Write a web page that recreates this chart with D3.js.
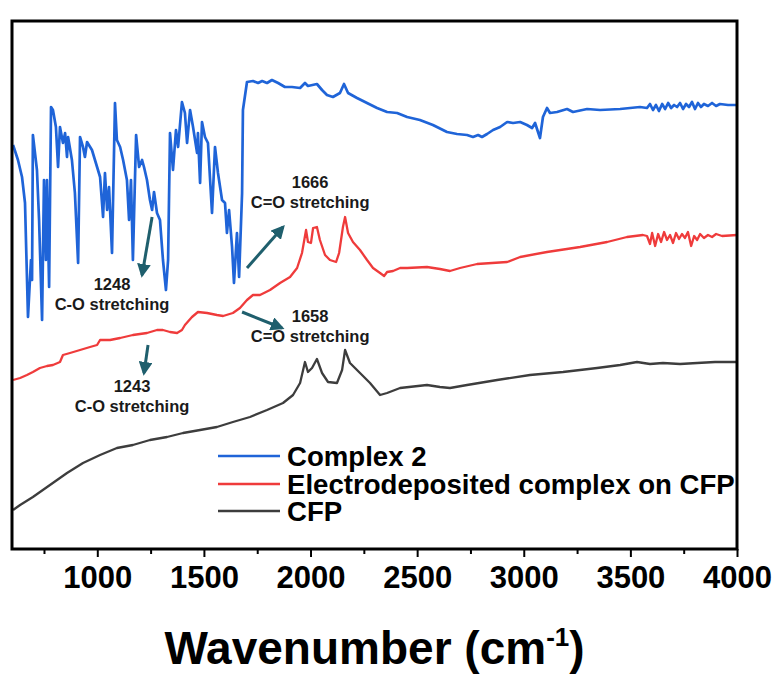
<!DOCTYPE html>
<html lang="en">
<head>
<meta charset="UTF-8">
<title>FTIR: Complex 2 / electrodeposited / CFP</title>
<script src="https://cdnjs.cloudflare.com/ajax/libs/d3/7.8.5/d3.min.js"></script>
<style>
  body { margin: 0; background: #fff; }
  svg { display: block; font-family: "Liberation Sans", Arial, sans-serif; }
  .tick text { font-weight: bold; font-size: 31px; fill: #000; }
  .tick line { stroke: #000; stroke-width: 2px; }
  .note { font-weight: bold; font-size: 16.5px; fill: #1a1a1a; }
  .legend text { font-weight: bold; font-size: 27.6px; fill: #000; }
</style>
</head>
<body>
<svg id="chart" width="780" height="674"></svg>
<script>
// wavenumber (cm-1) and transmittance (a.u., offset)
var wnComplex = [605, 628, 647, 661, 675, 689, 694, 698, 717, 727, 741, 750, 759, 764, 774, 783, 792, 806, 816, 825,
  839, 849, 858, 863, 881, 895, 910, 919, 933, 942, 952, 975, 999, 1013, 1027, 1036, 1046, 1055, 1069, 1083,
  1092, 1107, 1121, 1139, 1149, 1158, 1167, 1182, 1196, 1210, 1219, 1233, 1247, 1257, 1266, 1280, 1294, 1308, 1322, 1332,
  1341, 1355, 1369, 1379, 1397, 1411, 1421, 1435, 1449, 1468, 1472, 1482, 1491, 1505, 1519, 1538, 1552, 1566, 1585, 1599,
  1608, 1618, 1632, 1641, 1655, 1665, 1679, 1683, 1702, 1730, 1754, 1773, 1796, 1819, 1848, 1880, 1913, 1951, 1974, 1988,
  2030, 2054, 2077, 2105, 2138, 2157, 2176, 2218, 2265, 2312, 2359, 2406, 2453, 2513, 2574, 2640, 2687, 2734, 2762, 2786,
  2804, 2828, 2856, 2889, 2922, 2950, 2983, 3015, 3039, 3053, 3076, 3090, 3109, 3123, 3156, 3203, 3231, 3297, 3358, 3452,
  3545, 3578, 3592, 3606, 3620, 3634, 3649, 3663, 3677, 3691, 3705, 3719, 3733, 3747, 3761, 3775, 3789, 3803, 3817, 3831,
  3845, 3864, 3883, 3902, 3920, 3958, 4000];
var tComplex = [80.8, 77.8, 74.4, 69.2, 46.4, 57.8, 53.8, 82.8, 75.8, 65.8, 45.8, 73.8, 57.8, 73.8, 52.4, 88.4, 87.8, 84.4, 76.4, 84.4,
  81.2, 83.2, 78.4, 82.4, 77.8, 71.2, 57.2, 82.4, 80.4, 78.4, 81.4, 79.8, 76.4, 74.4, 66.4, 75.2, 67.8, 72.4, 59.2, 89.2,
  81.8, 80.4, 77.8, 73.8, 65.8, 73.8, 57.8, 82.8, 76.4, 77.8, 76.4, 73.8, 69.8, 67.8, 71.4, 67.2, 65.8, 57.8, 51.8, 57.8,
  83.2, 75.8, 83.8, 80.4, 89.4, 87.2, 81.2, 87.8, 84.4, 79.2, 83.2, 73.2, 85.4, 82.4, 81.2, 67.2, 80.4, 75.2, 69.8, 69.2,
  63.2, 67.8, 60.4, 53.2, 63.2, 54.4, 71.2, 87.8, 93.4, 93.6, 93.2, 93.6, 93.2, 93.8, 93.2, 92.4, 92.4, 92.2, 93.2, 92.6,
  93.0, 91.8, 90.8, 90.4, 91.2, 93.0, 91.2, 90.2, 89.2, 88.2, 87.4, 87.2, 86.4, 85.8, 84.8, 83.4, 83.0, 82.8, 82.4, 82.8,
  82.4, 83.0, 83.8, 84.4, 85.4, 85.2, 85.4, 84.8, 84.2, 85.2, 82.2, 86.4, 88.2, 87.2, 87.4, 88.0, 87.4, 88.0, 87.8, 88.0,
  88.4, 88.2, 89.0, 87.8, 88.8, 87.6, 89.0, 88.0, 89.2, 88.2, 88.8, 88.4, 89.2, 88.0, 89.0, 88.4, 89.4, 88.0, 89.2, 88.4,
  89.0, 88.6, 89.2, 88.6, 89.0, 88.8, 88.8];

var wnDeposit = [605, 638, 670, 698, 731, 764, 792, 825, 839, 872, 919, 966, 999, 1013, 1060, 1107, 1167, 1233, 1280, 1308,
  1341, 1374, 1397, 1411, 1444, 1472, 1515, 1561, 1590, 1636, 1669, 1702, 1730, 1763, 1810, 1857, 1904, 1937, 1960, 1979,
  1988, 2002, 2012, 2030, 2044, 2068, 2091, 2120, 2134, 2152, 2162, 2176, 2199, 2232, 2265, 2293, 2326, 2345, 2359, 2387,
  2420, 2453, 2546, 2607, 2654, 2701, 2781, 2922, 2983, 3109, 3264, 3391, 3484, 3559, 3578, 3592, 3602, 3616, 3630, 3644,
  3658, 3672, 3686, 3700, 3714, 3728, 3742, 3756, 3770, 3785, 3799, 3813, 3827, 3845, 3864, 3883, 3902, 3930, 4000];
var tDeposit = [33.8, 34.2, 34.8, 35.4, 36.2, 36.6, 36.8, 37.4, 38.8, 39.2, 39.8, 40.4, 40.8, 41.8, 41.8, 42.2, 42.8, 43.2, 43.8, 43.8,
  43.4, 43.2, 43.8, 44.8, 46.4, 47.4, 47.2, 46.8, 46.6, 47.2, 48.2, 49.8, 50.8, 50.8, 51.8, 53.2, 54.4, 56.2, 59.2, 63.8,
  61.4, 61.2, 64.2, 64.4, 61.8, 58.8, 57.8, 57.4, 59.2, 64.4, 66.4, 63.2, 61.4, 59.8, 57.8, 56.2, 55.2, 54.6, 55.4, 55.6,
  56.2, 56.2, 56.4, 56.0, 55.6, 56.2, 57.0, 57.4, 58.4, 59.4, 60.4, 61.4, 62.4, 62.8, 62.6, 61.0, 63.2, 60.6, 63.0, 61.4,
  63.4, 61.8, 62.8, 61.2, 63.2, 62.0, 63.0, 62.2, 63.4, 60.6, 62.6, 61.8, 63.0, 62.2, 62.8, 62.4, 63.0, 62.6, 62.8];

var wnCFP = [605, 638, 698, 778, 858, 933, 1013, 1092, 1167, 1247, 1327, 1402, 1482, 1561, 1636, 1716, 1796, 1871, 1918, 1951,
  1974, 1988, 2007, 2030, 2054, 2082, 2124, 2148, 2162, 2185, 2232, 2279, 2326, 2359, 2420, 2546, 2607, 2654, 2734, 2875,
  3029, 3184, 3344, 3452, 3531, 3592, 3653, 3733, 3813, 3897, 4000];
var tCFP = [7.8, 8.8, 10.4, 12.8, 15.2, 17.2, 18.8, 20.2, 20.8, 21.8, 22.4, 23.2, 23.8, 24.4, 25.4, 26.4, 27.8, 29.2, 30.8, 33.2,
  37.4, 35.4, 36.2, 38.0, 35.2, 33.4, 33.2, 35.8, 39.8, 37.2, 35.2, 33.2, 30.8, 31.2, 32.2, 32.8, 32.4, 32.2, 32.8, 33.8,
  34.8, 35.4, 36.2, 36.8, 37.4, 37.0, 37.2, 37.0, 37.2, 37.4, 37.4];

var seriesNames = ["Complex 2", "Electrodeposited complex on CFP", "CFP"];
var seriesColors = ["#1f64d8", "#ef3b3b", "#3d3d3d"];
var majorTicks = [1000, 1500, 2000, 2500, 3000, 3500, 4000];
var minorTicks = [750, 1250, 1750, 2250, 2750, 3250, 3750];

// band labels: arrow from/to and text anchor, in (wavenumber, a.u.)
var noteLabels = [["1248", "C-O stretching"], ["1666", "C=O stretching"], ["1658", "C=O stretching"], ["1243", "C-O stretching"]];
var noteArrowFrom = [[1257, 66.4], [1702, 56.2], [1679, 47.4], [1238, 40.8]];
var noteArrowTo = [[1210, 54.8], [1871, 64.4], [1866, 44.2], [1219, 35.2]];
var noteText = [[1069, 51.8], [1998, 72.2], [1998, 45.4], [1163, 31.4]];

var svg = d3.select("#chart");
var margin = {top: 21, right: 43, bottom: 125, left: 12};
var width = 780 - margin.left - margin.right;
var height = 674 - margin.top - margin.bottom;

var x = d3.scaleLinear().domain([600, 4000]).range([margin.left, margin.left + width]);
var y = d3.scaleLinear().domain([0, 105.6]).range([margin.top + height, margin.top]);

var line = d3.line()
    .x(function (d) { return x(d[0]); })
    .y(function (d) { return y(d[1]); });

var series = [
  d3.zip(wnComplex, tComplex),
  d3.zip(wnDeposit, tDeposit),
  d3.zip(wnCFP, tCFP)
];

// draw CFP first so blue sits on top
[2, 1, 0].forEach(function (i) {
  svg.append("path")
      .datum(series[i])
      .attr("fill", "none")
      .attr("stroke", seriesColors[i])
      .attr("stroke-width", i === 0 ? 2.7 : 2.3)
      .attr("stroke-linejoin", "round")
      .attr("d", line);
});

// bottom axis, major + minor ticks
var axisY = margin.top + height;
svg.append("g")
    .attr("transform", "translate(0," + axisY + ")")
    .call(d3.axisBottom(x).tickValues(minorTicks).tickSize(5).tickFormat(""))
    .call(function (g) { g.select(".domain").remove(); });

svg.append("g")
    .attr("transform", "translate(0," + axisY + ")")
    .call(d3.axisBottom(x).tickValues(majorTicks).tickSize(8).tickPadding(9).tickFormat(d3.format("d")))
    .call(function (g) { g.select(".domain").remove(); });

// frame
svg.append("rect")
    .attr("x", margin.left)
    .attr("y", margin.top)
    .attr("width", width)
    .attr("height", height)
    .attr("fill", "none")
    .attr("stroke", "#000")
    .attr("stroke-width", 3);

// axis title
var title = svg.append("text")
    .attr("x", margin.left + width / 2)
    .attr("y", 664)
    .attr("text-anchor", "middle")
    .style("font-weight", "bold")
    .style("font-size", "46px")
    .text("Wavenumber (cm");
title.append("tspan").attr("dy", -18).style("font-size", "26px").text("-1");
title.append("tspan").attr("dy", 18).text(")");

// arrows
svg.append("defs").append("marker")
    .attr("id", "head")
    .attr("viewBox", "0 0 10 10")
    .attr("refX", 8)
    .attr("refY", 5)
    .attr("markerWidth", 4.6)
    .attr("markerHeight", 4.6)
    .attr("orient", "auto")
    .append("path")
    .attr("d", "M0,0L10,5L0,10Z")
    .attr("fill", "#1f5f6d");

noteLabels.forEach(function (lab, i) {
  svg.append("line")
      .attr("x1", x(noteArrowFrom[i][0]))
      .attr("y1", y(noteArrowFrom[i][1]))
      .attr("x2", x(noteArrowTo[i][0]))
      .attr("y2", y(noteArrowTo[i][1]))
      .attr("stroke", "#1f5f6d")
      .attr("stroke-width", 3)
      .attr("marker-end", "url(#head)");

  var t = svg.append("text")
      .attr("class", "note")
      .attr("text-anchor", "middle")
      .attr("x", x(noteText[i][0]))
      .attr("y", y(noteText[i][1]));
  t.append("tspan").text(lab[0]);
  t.append("tspan").attr("x", x(noteText[i][0])).attr("dy", 20).text(lab[1]);
});

// legend
var legend = svg.append("g").attr("class", "legend");
var legendY = [456, 484, 511];
seriesNames.forEach(function (name, i) {
  legend.append("line")
      .attr("x1", 218).attr("x2", 280)
      .attr("y1", legendY[i]).attr("y2", legendY[i])
      .attr("stroke", seriesColors[i])
      .attr("stroke-width", 2.5);
  legend.append("text")
      .attr("x", 287)
      .attr("y", legendY[i])
      .attr("dy", "0.36em")
      .text(name);
});
</script>
</body>
</html>
